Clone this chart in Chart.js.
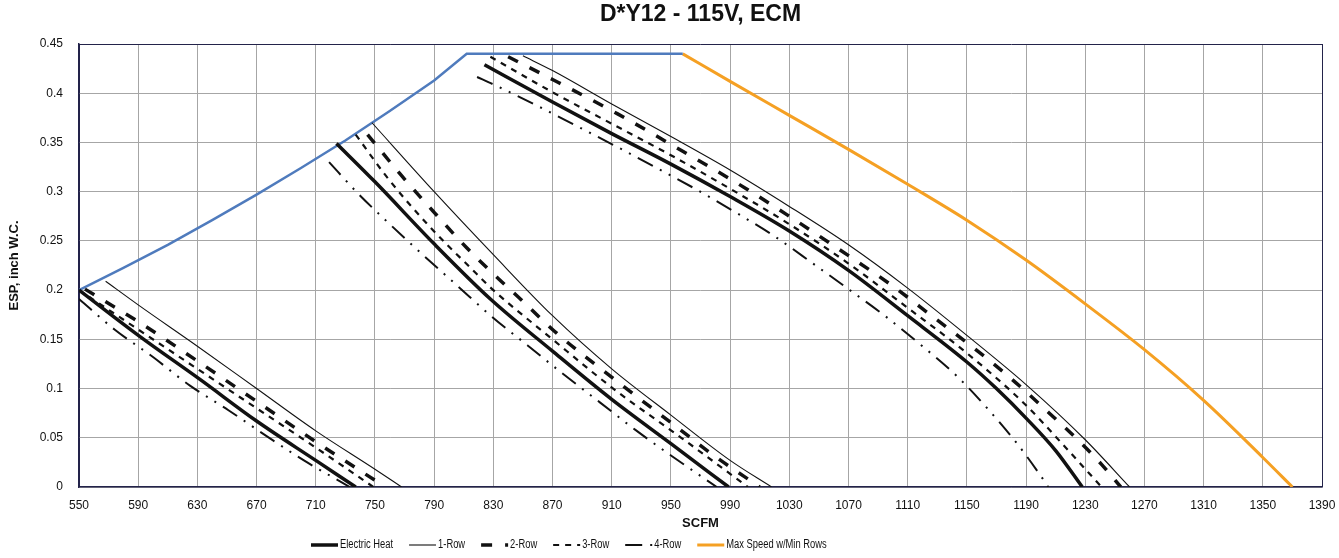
<!DOCTYPE html>
<html>
<head>
<meta charset="utf-8">
<script src="https://cdn.jsdelivr.net/npm/chart.js@4.4.1/dist/chart.umd.min.js"></script>
<style>
  html, body { margin: 0; padding: 0; background: #fff; }
  #wrap { width: 1339px; height: 558px; position: relative; }
</style>
</head>
<body>
<div id="wrap"><canvas id="fanChart"></canvas></div>
<script>
// points: [SCFM, ESP inch W.C.]
// low speed tap
const ehLow   = [[550,0.2],[591,0.153],[632,0.109],[670,0.067],[711,0.026],[737,0]];
const row1Low = [[568,0.209],[590,0.185],[630,0.143],[670,0.1],[710,0.057],[750,0.018],[768,0]];
const row2Low = [[554,0.201],[590,0.168],[630,0.128],[670,0.087],[710,0.046],[757,0]];
const row3Low = [[550,0.2],[590,0.16],[630,0.12],[670,0.08],[710,0.04],[749,0]];
const row4Low = [[550,0.191],[574,0.16],[600,0.132],[625,0.103],[651,0.078],[676,0.0525],[702,0.027],[733,0]];
// medium speed tap
const ehMid   = [[724,0.349],[750,0.31],[790,0.247],[828,0.191],[870,0.138],[910,0.089],[950,0.044],[989,0]];
const row1Mid = [[748,0.37],[790,0.3],[830,0.236],[870,0.174],[910,0.12],[950,0.073],[990,0.027],[1018,0]];
const row2Mid = [[745,0.358],[767,0.318],[790,0.279],[812,0.243],[836,0.208],[849,0.19],[873,0.156],[913,0.108],[953,0.062],[979,0.032],[1010,0]];
const row3Mid = [[737,0.358],[758,0.315],[786,0.266],[815,0.222],[830,0.2],[870,0.15],[911,0.1],[957,0.05],[1002,0]];
const row4Mid = [[719,0.33],[738,0.299],[760,0.267],[783,0.235],[806,0.204],[829,0.173],[853,0.144],[877,0.115],[902,0.086],[926,0.058],[951,0.031],[981,0]];
// high speed tap
const ehHigh   = [[824,0.429],[870,0.391],[910,0.359],[950,0.328],[990,0.295],[1030,0.26],[1070,0.22],[1110,0.174],[1150,0.127],[1170,0.1],[1190,0.07],[1210,0.037],[1228,0]];
const row1High = [[850,0.438],[870,0.423],[910,0.389],[950,0.356],[990,0.322],[1030,0.285],[1070,0.246],[1110,0.202],[1150,0.154],[1190,0.104],[1230,0.048],[1260,0]];
const row2High = [[840,0.437],[870,0.414],[914,0.379],[958,0.341],[1002,0.302],[1030,0.275],[1072,0.233],[1100,0.204],[1127,0.173],[1154,0.142],[1180,0.11],[1205,0.076],[1229,0.042],[1241,0.023],[1254,0]];
const row3High = [[828,0.437],[870,0.401],[910,0.369],[950,0.337],[990,0.303],[1030,0.267],[1070,0.227],[1110,0.182],[1150,0.136],[1190,0.083],[1215,0.043],[1241,0]];
const row4High = [[819,0.4165],[830,0.409],[858,0.3885],[886,0.367],[913,0.346],[940,0.3244],[967,0.3024],[994,0.2787],[1020,0.2547],[1046,0.227],[1070,0.201],[1095,0.1734],[1120,0.143],[1143,0.113],[1164,0.0796],[1184,0.044],[1201,0.009],[1205,0]];
// limits
const envelope = [[550,0.2],[580,0.2225],[610,0.246],[640,0.271],[670,0.297],[700,0.324],[730,0.352],[760,0.382],[790,0.413],[812,0.44],[958,0.44]];
const maxSpeed = [[958,0.44],[990,0.412],[1030,0.3775],[1070,0.343],[1110,0.3075],[1150,0.271],[1190,0.2305],[1230,0.186],[1270,0.1395],[1310,0.088],[1350,0.03],[1370,0]];

const scfmMin = 550, scfmMax = 1390, scfmStep = 40;
const espMin = 0, espMax = 0.45, espStep = 0.05;

const legendNames = ['Electric Heat', '1-Row', '2-Row', '3-Row', '4-Row', 'Max Speed w/Min Rows'];
const legendKeys  = ['eh', 'r1', 'r2', 'r3', 'r4', 'max'];

const navy = '#23234a';
const styles = {
  eh:  { borderColor: '#111', borderWidth: 3.5, borderDash: [] },
  r1:  { borderColor: '#111', borderWidth: 1.1, borderDash: [] },
  r2:  { borderColor: '#111', borderWidth: 3.5, borderDash: [11, 13] },
  r3:  { borderColor: '#111', borderWidth: 2.2, borderDash: [6, 6] },
  r4:  { borderColor: '#111', borderWidth: 2, borderDash: [17, 8, 2, 8, 2, 8] },
  max: { borderColor: '#f5a023', borderWidth: 3, borderDash: [] },
  env: { borderColor: '#4f7bbd', borderWidth: 2.5, borderDash: [] }
};

function curve(points, key) {
  return Object.assign({
    data: points.map(p => ({ x: p[0], y: p[1] })),
    showLine: true,
    pointRadius: 0,
    fill: false,
    cubicInterpolationMode: key === 'env' ? 'default' : 'monotone',
    tension: 0
  }, styles[key]);
}

const datasets = [
  curve(ehLow, 'eh'), curve(row1Low, 'r1'), curve(row2Low, 'r2'), curve(row3Low, 'r3'), curve(row4Low, 'r4'),
  curve(ehMid, 'eh'), curve(row1Mid, 'r1'), curve(row2Mid, 'r2'), curve(row3Mid, 'r3'), curve(row4Mid, 'r4'),
  curve(ehHigh, 'eh'), curve(row1High, 'r1'), curve(row2High, 'r2'), curve(row3High, 'r3'), curve(row4High, 'r4'),
  curve(envelope, 'env'), curve(maxSpeed, 'max')
];

// legend sits under the axis title, drawn by hand so it can be placed like the original
const bottomLegend = {
  id: 'bottomLegend',
  afterDraw(chart) {
    const ctx = chart.ctx;
    const squeeze = 0.78; // narrow face
    ctx.save();
    ctx.font = '12px "Liberation Sans", Arial, sans-serif';
    ctx.textBaseline = 'middle';
    let x = 311, y = 545;
    legendNames.forEach((name, i) => {
      const st = styles[legendKeys[i]];
      ctx.beginPath();
      ctx.setLineDash(st.borderDash);
      ctx.lineWidth = st.borderWidth;
      ctx.strokeStyle = st.borderColor;
      ctx.moveTo(x, y);
      ctx.lineTo(x + 27, y);
      ctx.stroke();
      ctx.setLineDash([]);
      ctx.fillStyle = '#111';
      ctx.save();
      ctx.translate(x + 29, y);
      ctx.scale(squeeze, 1);
      ctx.fillText(name, 0, 0);
      ctx.restore();
      x += 29 + ctx.measureText(name).width * squeeze + 16;
    });
    ctx.restore();
  }
};

const font = '"Liberation Sans", Arial, sans-serif';

new Chart(document.getElementById('fanChart'), {
  type: 'scatter',
  data: { datasets: datasets },
  options: {
    responsive: true,
    maintainAspectRatio: false,
    animation: false,
    events: [],
    layout: { padding: { left: 0, right: 0, top: 0, bottom: 0 } },
    plugins: {
      legend: { display: false },
      tooltip: { enabled: false },
      title: {
        display: true,
        fullSize: false,
        text: 'D*Y12 - 115V, ECM',
        color: '#111',
        font: { family: font, size: 23, weight: 'bold' },
        padding: { top: 1, bottom: 15.4 }
      }
    },
    scales: {
      x: {
        type: 'linear',
        min: scfmMin,
        max: scfmMax,
        afterFit(scale) {
          scale.height = 71;
          scale.paddingRight = 17; // keep the plot frame at the original right edge
        },
        ticks: { stepSize: scfmStep, padding: 11, color: '#111', font: { family: font, size: 12 }, callback: v => String(v) },
        grid: {
          drawTicks: false,
          lineWidth: 1,
          color: c => (c.tick && (c.tick.value === scfmMax || c.tick.value === scfmMin)) ? navy : '#a6a6a6'
        },
        border: { color: navy, width: 1.5 },
        title: { display: true, text: 'SCFM', color: '#111', font: { family: font, size: 13, weight: 'bold' }, padding: { top: 0, bottom: 27 } }
      },
      y: {
        min: espMin,
        max: espMax,
        afterFit(scale) { scale.width = 79; },
        ticks: { stepSize: espStep, padding: 16, color: '#111', font: { family: font, size: 12 }, callback: v => String(+v.toFixed(2)) },
        grid: {
          drawTicks: false,
          lineWidth: 1,
          color: c => (c.tick && c.tick.value === espMax) ? navy : '#a6a6a6'
        },
        border: { color: navy, width: 1.5 },
        title: { display: true, text: 'ESP, inch W.C.', color: '#111', font: { family: font, size: 13, weight: 'bold' }, padding: { top: 7, bottom: 0 } }
      }
    }
  },
  plugins: [bottomLegend]
});
</script>
</body>
</html>
